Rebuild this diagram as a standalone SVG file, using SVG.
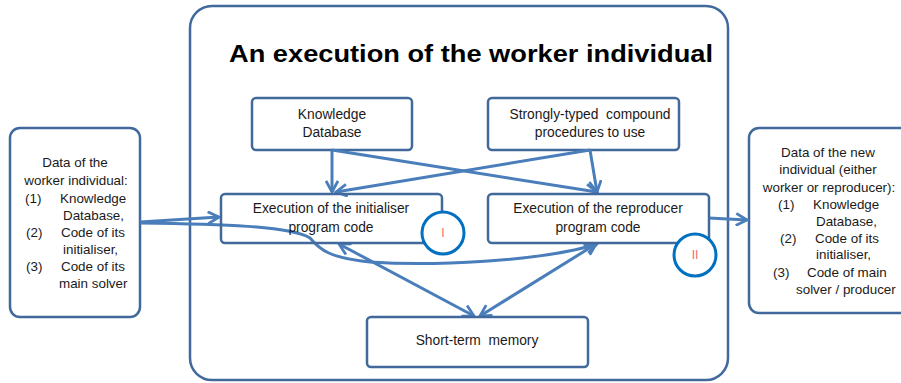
<svg xmlns="http://www.w3.org/2000/svg" width="901" height="383" viewBox="0 0 901 383">
<style>
.box{fill:#fff;stroke:#41699c;stroke-width:2.5}
.t{font-family:"Liberation Sans",Arial,sans-serif;font-size:13.4px;fill:#1a1a1a}
.b{font-size:13.8px}
.c{text-anchor:middle}
.ttl{font-family:"Liberation Sans",Arial,sans-serif;font-size:24px;font-weight:bold;fill:#000;text-anchor:middle}
.ln{fill:none;stroke:#4a7ebb;stroke-width:3}
.circ{fill:#fff;stroke:#0070c0;stroke-width:3}
.rt{font-family:"Liberation Sans",Arial,sans-serif;font-size:12px;fill:#f06a6a;text-anchor:middle}
</style>
<defs>
<marker id="arr" viewBox="0 0 14 14" refX="12" refY="7" markerWidth="14" markerHeight="14" markerUnits="userSpaceOnUse" orient="auto-start-reverse">
<path d="M1,1 L12,7 L1,13" fill="none" stroke="#4a7ebb" stroke-width="2.8"/>
</marker>
</defs>
<rect width="901" height="383" fill="#fff"/>
<g id="main">
<rect class="box" x="190" y="6" width="538" height="374" rx="22"/>
<text class="ttl" x="471" y="62" textLength="484" lengthAdjust="spacingAndGlyphs">An execution of the worker individual</text>
</g>
<g id="input">
<rect class="box" x="10" y="128" width="130" height="189" rx="10"/>
<text class="t c" x="75" y="167">Data of the</text>
<text class="t c" x="76" y="185">worker individual:</text>
<text class="t" x="25" y="203">(1)</text><text class="t" x="60" y="203">Knowledge</text>
<text class="t" x="63" y="220">Database,</text>
<text class="t" x="26" y="237">(2)</text><text class="t" x="61" y="237">Code of its</text>
<text class="t" x="63" y="254">initialiser,</text>
<text class="t" x="26" y="271">(3)</text><text class="t" x="61" y="271">Code of its</text>
<text class="t" x="59" y="288">main solver</text>
</g>
<g id="output">
<rect class="box" x="749" y="128" width="170" height="185" rx="10"/>
<text class="t c" x="828" y="157">Data of the new</text>
<text class="t c" x="828" y="174">individual (either</text>
<text class="t c" x="829" y="192">worker or reproducer):</text>
<text class="t" x="778" y="209">(1)</text><text class="t" x="813" y="209">Knowledge</text>
<text class="t" x="816" y="226">Database,</text>
<text class="t" x="780" y="243">(2)</text><text class="t" x="815" y="243">Code of its</text>
<text class="t" x="816" y="259">initialiser,</text>
<text class="t" x="773" y="277">(3)</text><text class="t" x="807" y="277">Code of main</text>
<text class="t" x="796" y="294">solver / producer</text>
</g>
<g id="kdb">
<rect class="box" x="252" y="98" width="160" height="52" rx="4"/>
<text class="t b c" x="332" y="119">Knowledge</text>
<text class="t b c" x="332" y="137">Database</text>
</g>
<g id="procs">
<rect class="box" x="488" y="98" width="191" height="52" rx="4"/>
<text class="t b c" x="590" y="119" xml:space="preserve">Strongly-typed  compound</text>
<text class="t b c" x="590" y="137">procedures to use</text>
</g>
<g id="connectors">
<path class="ln" d="M332,150 L332,192" marker-end="url(#arr)"/>
<path class="ln" d="M332,150 L597,192" marker-end="url(#arr)"/>
<path class="ln" d="M590,150 L336,192" marker-end="url(#arr)"/>
<path class="ln" d="M590,150 L597,192" marker-end="url(#arr)"/>
<path class="ln" d="M140,222 L219,217" marker-end="url(#arr)"/>
<path class="ln" d="M140,223 C220,224 290,226 310,238 C320,250 330,258 370,262 C430,266 540,262 597,244" marker-end="url(#arr)"/>
<path class="ln" d="M339,244 L474,316" marker-start="url(#arr)" marker-end="url(#arr)"/>
<path class="ln" d="M596,244 L480,316" marker-start="url(#arr)" marker-end="url(#arr)"/>
<path class="ln" d="M709,218 L747,220" marker-end="url(#arr)"/>
</g>
<g id="init">
<rect class="box" x="221" y="194" width="221" height="49" rx="4" fill-opacity="0"/>
<text class="t b c" x="331" y="213">Execution of the initialiser</text>
<text class="t b c" x="331" y="232">program code</text>
</g>
<g id="repro">
<rect class="box" x="488" y="194" width="221" height="49" rx="4"/>
<text class="t b c" x="598" y="213">Execution of the reproducer</text>
<text class="t b c" x="598" y="232">program code</text>
</g>
<g id="stm">
<rect class="box" x="367" y="317" width="221" height="50" rx="4"/>
<text class="t b c" x="477" y="345" xml:space="preserve">Short-term  memory</text>
</g>
<g id="circleI">
<circle class="circ" cx="443" cy="233" r="21"/>
<text class="rt" x="443" y="237">I</text>
</g>
<g id="circleII">
<circle class="circ" cx="695" cy="255" r="21"/>
<text class="rt" x="695" y="259">II</text>
</g>
</svg>
